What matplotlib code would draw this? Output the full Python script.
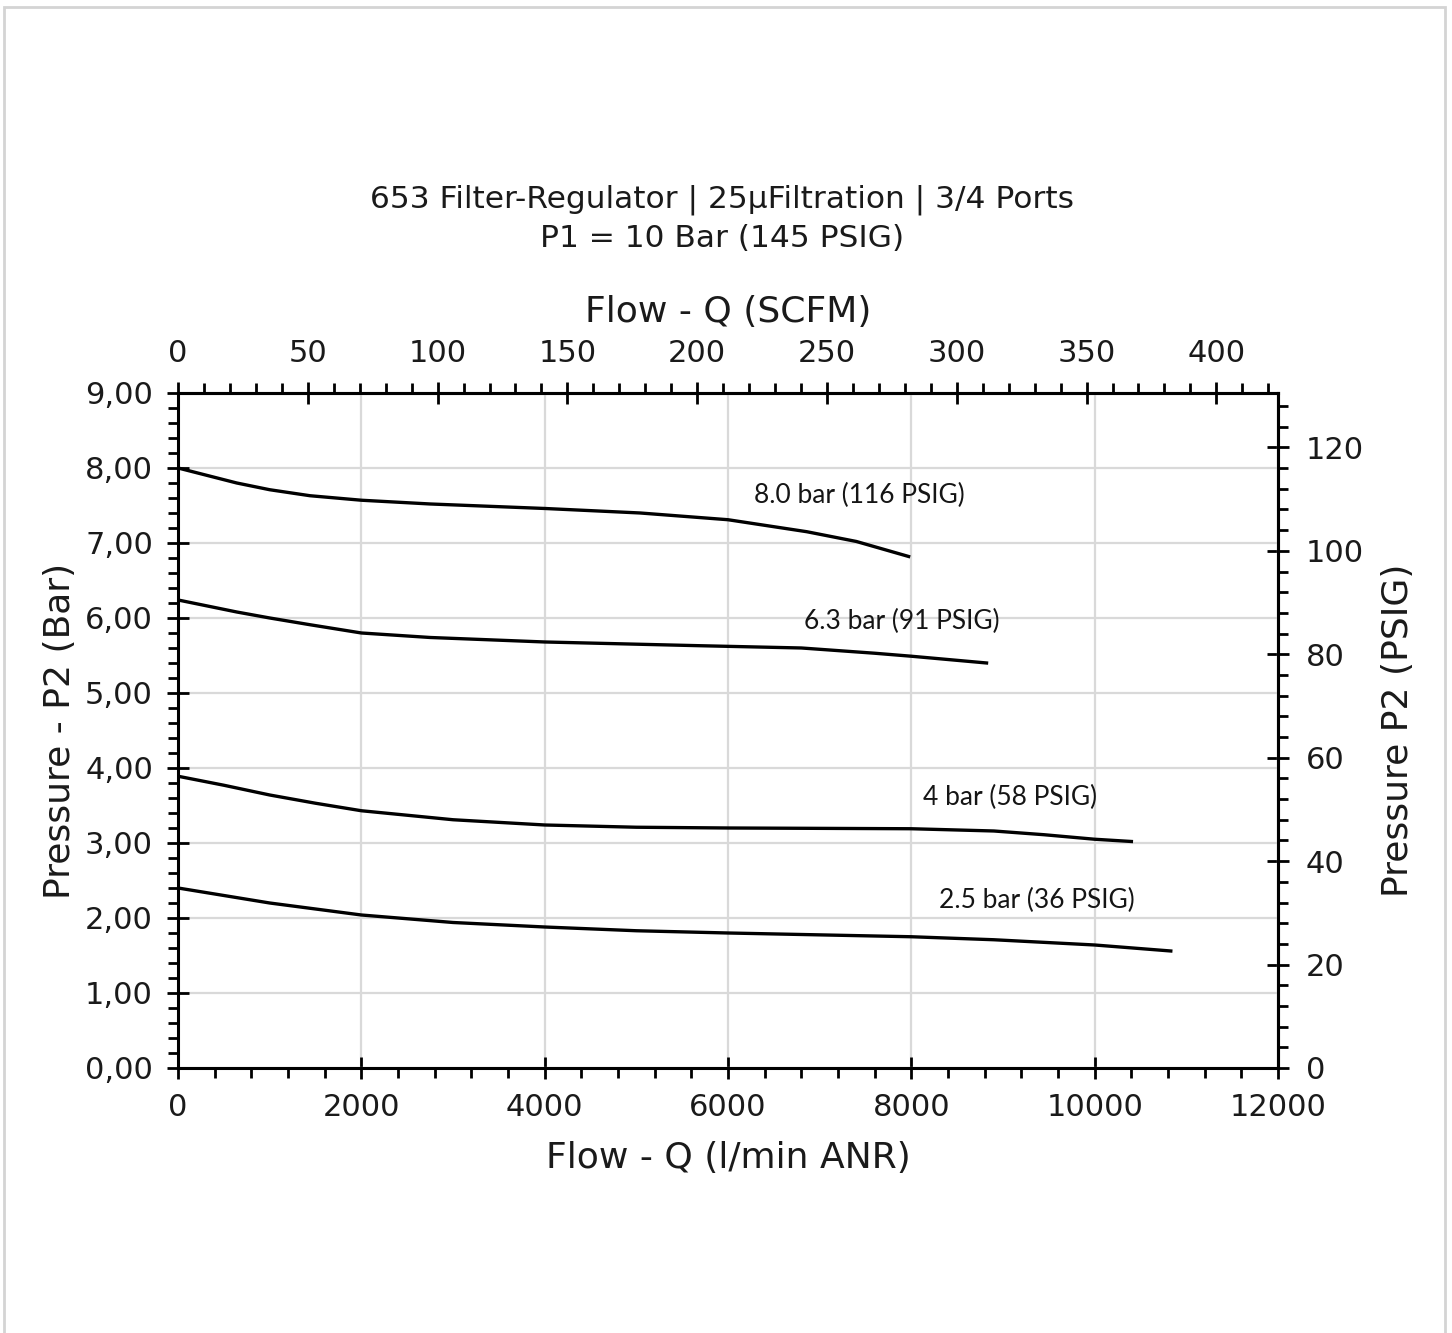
import matplotlib.pyplot as plt
from matplotlib.ticker import MultipleLocator, FuncFormatter
from matplotlib.patches import Rectangle

plt.rcParams['font.family'] = ['DejaVu Sans']

# flow in l/min ANR, pressure P2 in bar
q_80 = [0, 320, 640, 1000, 1440, 2000, 2750, 4000, 5040, 6000, 6860, 7400, 7970]
p_80 = [8.00, 7.90, 7.80, 7.71, 7.63, 7.57, 7.52, 7.46, 7.40, 7.31, 7.15, 7.02, 6.82]

q_63 = [0, 640, 1000, 1440, 2000, 2750, 4000, 5700, 6800, 7600, 8000, 8820]
p_63 = [6.24, 6.08, 6.00, 5.91, 5.80, 5.74, 5.68, 5.63, 5.60, 5.53, 5.49, 5.40]

q_40 = [0, 500, 1000, 1500, 2000, 3000, 4000, 5000, 6000, 8000, 8900, 9450, 10000, 10400]
p_40 = [3.89, 3.77, 3.64, 3.53, 3.43, 3.31, 3.24, 3.21, 3.20, 3.19, 3.16, 3.11, 3.05, 3.02]

q_25 = [0, 1000, 2000, 3000, 4000, 5000, 6000, 8000, 8900, 10000, 10830]
p_25 = [2.40, 2.20, 2.04, 1.94, 1.88, 1.83, 1.80, 1.75, 1.71, 1.64, 1.56]

labels = ['8.0 bar (116 PSIG)', '6.3 bar (91 PSIG)', '4 bar (58 PSIG)', '2.5 bar (36 PSIG)']
label_x = [7430, 7900, 9080, 9370]
label_y = [7.64, 5.95, 3.61, 2.23]

scfm_ticks = [0, 50, 100, 150, 200, 250, 300, 350, 400]
psig_ticks = [0, 20, 40, 60, 80, 100, 120]

LPM_PER_SCFM = 28.317
PSI_PER_BAR = 14.5038

fig = plt.figure(figsize=(14.52, 13.33), dpi=100)
fig.patches.append(Rectangle((0.003, -0.01), 0.992, 1.005, transform=fig.transFigure,
                             fill=False, edgecolor='#d4d4d4', linewidth=2))
ax = fig.add_axes([0.1226, 0.1988, 0.7576, 0.5064])

for q, p in [(q_80, p_80), (q_63, p_63), (q_40, p_40), (q_25, p_25)]:
    ax.plot(q, p, color='black', linewidth=2.4, zorder=3)

for t, x, y in zip(labels, label_x, label_y):
    ax.text(x, y, t, ha='center', va='center', fontsize=19, color='#151515',
            family=['Lato', 'DejaVu Sans'])

ax.set_xlim(0, 12000)
ax.set_ylim(0, 9)
ax.xaxis.set_major_locator(MultipleLocator(2000))
ax.xaxis.set_minor_locator(MultipleLocator(400))
ax.yaxis.set_major_locator(MultipleLocator(1))
ax.yaxis.set_minor_locator(MultipleLocator(0.2))
ax.yaxis.set_major_formatter(FuncFormatter(lambda v, pos: f'{v:.2f}'.replace('.', ',')))
ax.grid(True, which='major', color='#d9d9d9', linewidth=1.6)

for s in ax.spines.values():
    s.set_linewidth(2.2)

ax.tick_params(which='major', direction='inout', length=16, width=2, labelsize=22,
               pad=10, labelcolor='#1a1a1a')
ax.tick_params(which='minor', direction='out', length=7, width=2)
ax.set_xlabel('Flow - Q (l/min ANR)', fontsize=26, labelpad=14, color='#1a1a1a')
ax.set_ylabel('Pressure - P2 (Bar)', fontsize=26, labelpad=6, color='#1a1a1a')

# top axis in SCFM
top = ax.secondary_xaxis('top', functions=(lambda x: x / LPM_PER_SCFM, lambda x: x * LPM_PER_SCFM))
top.set_xticks(scfm_ticks)
top.xaxis.set_minor_locator(MultipleLocator(10))
top.tick_params(which='major', direction='inout', length=16, width=2, labelsize=22,
                pad=10, labelcolor='#1a1a1a')
top.tick_params(which='minor', direction='out', length=7, width=2)
top.spines['top'].set_linewidth(2.2)
top.set_xlabel('Flow - Q (SCFM)', fontsize=26, labelpad=12, color='#1a1a1a')

# right axis in PSIG
right = ax.secondary_yaxis('right', functions=(lambda y: y * PSI_PER_BAR, lambda y: y / PSI_PER_BAR))
right.set_yticks(psig_ticks)
right.yaxis.set_minor_locator(MultipleLocator(4))
right.tick_params(which='major', direction='inout', length=16, width=2, labelsize=22,
                  pad=12, labelcolor='#1a1a1a')
right.tick_params(which='minor', direction='out', length=7, width=2)
right.spines['right'].set_linewidth(2.2)
right.set_ylabel('Pressure P2 (PSIG)', fontsize=26, labelpad=12, color='#1a1a1a')

fig.text(0.497, 0.85, '653 Filter-Regulator | 25\u03bcFiltration | 3/4 Ports',
         ha='center', va='center', fontsize=22.5, color='#1a1a1a')
fig.text(0.497, 0.821, 'P1 = 10 Bar (145 PSIG)', ha='center', va='center',
         fontsize=22.5, color='#1a1a1a')

plt.savefig('out.png', dpi=100)
